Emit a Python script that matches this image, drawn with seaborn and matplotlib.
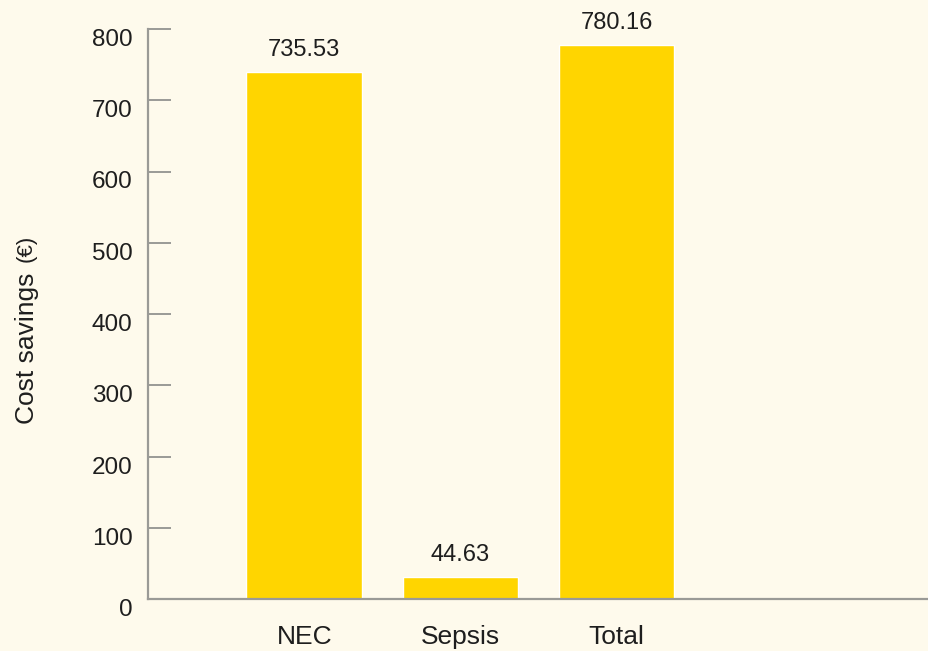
import matplotlib
matplotlib.use("Agg")
import matplotlib.pyplot as plt
import seaborn as sns
import pandas as pd

categories = ["NEC", "Sepsis", "Total"]
# bar heights as drawn in the picture (they differ slightly from the printed labels)
bar_heights = [740.0, 31.5, 778.0]
labels = ["735.53", "44.63", "780.16"]

bg = "#FEFAEC"
bar_col = "#FFD500"
grey = "#9A9A96"
txt = "#1E1E1E"

sns.set_style("white")
plt.rcParams["font.family"] = ["Liberation Sans", "DejaVu Sans"]

df = pd.DataFrame({"cat": categories, "val": bar_heights})

fig = plt.figure(figsize=(9.29, 6.51), dpi=100, facecolor=bg)
ax = fig.add_axes([148 / 929, 52 / 651, 1 - 148 / 929, (599 - 29) / 651])
ax.set_facecolor(bg)

sns.barplot(data=df, x="cat", y="val", order=categories, color=bar_col,
            saturation=1, width=0.74, ax=ax)

for i, (v, lab) in enumerate(zip(bar_heights, labels)):
    ax.annotate(lab, (i, v), xytext=(0, 11.5), textcoords="offset points",
                ha="center", va="baseline", fontsize=17, color=txt)

ax.set_xlim(-1, 4)
ax.set_ylim(0, 800)
ax.set_yticks(range(0, 801, 100))

for s in ["top", "right"]:
    ax.spines[s].set_visible(False)
for s in ["left", "bottom"]:
    ax.spines[s].set_color(grey)
    ax.spines[s].set_linewidth(1.6)

ax.tick_params(axis="y", left=True, direction="in", length=16.5, width=1.4,
               color=grey, pad=11, labelsize=17.5, labelcolor=txt)
ax.tick_params(axis="x", bottom=False, length=0, pad=19, labelsize=19,
               labelcolor=txt)
for t in ax.get_yticklabels():
    t.set_verticalalignment("top")

ax.set_xlabel("")
ax.set_ylabel("")

# y label: "Cost savings" with a smaller "(€)"
fig.text(34 / 929, 1 - 424 / 651, "Cost savings", rotation=90,
         rotation_mode="anchor", ha="left", va="baseline",
         fontsize=19, color=txt)
fig.text(32 / 929, 1 - 262 / 651, "(€)", rotation=90,
         rotation_mode="anchor", ha="left", va="baseline",
         fontsize=16, color=txt)

fig.savefig("out.png", dpi=100, facecolor=bg)
